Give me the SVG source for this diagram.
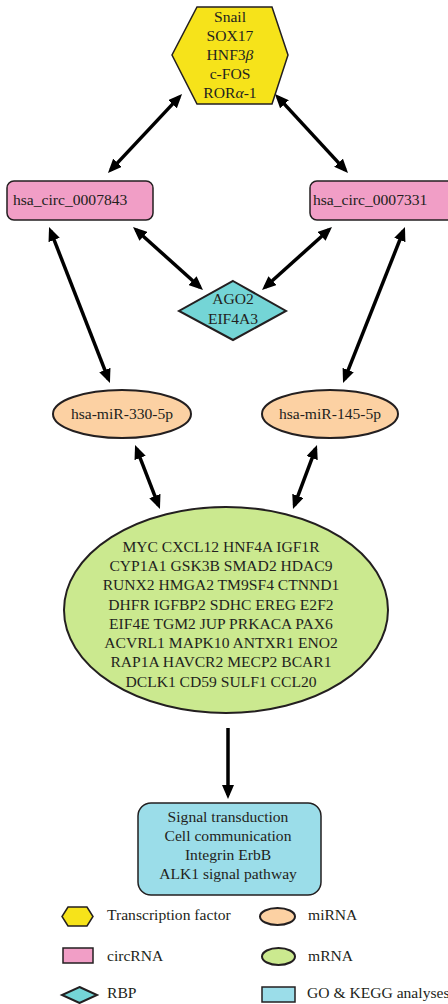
<svg xmlns="http://www.w3.org/2000/svg" width="448" height="1004" viewBox="0 0 448 1004">
  <style>
    .lbl { font-family: "Liberation Serif", "Times New Roman", serif; font-size: 15.6px; fill: #231f20; }
    .mid { text-anchor: middle; }
    .edge { stroke: #000; stroke-width: 3.5; fill: none; }
    .tf { fill: #f6e31a; stroke: #231f20; stroke-width: 1.5; }
    .circ { fill: #f19ec6; stroke: #231f20; stroke-width: 1.5; }
    .rbp { fill: #74d5d6; stroke: #231f20; stroke-width: 2; }
    .mir { fill: #fcd1a3; stroke: #231f20; stroke-width: 2; }
    .mrna { fill: #cbe98f; stroke: #231f20; stroke-width: 2; }
    .go { fill: #9bdde9; stroke: #231f20; stroke-width: 1.5; }
  </style>
  <defs>
    <marker id="head" markerUnits="userSpaceOnUse" markerWidth="14" markerHeight="12" refX="10" refY="6" orient="auto-start-reverse">
      <path d="M0,0 L14,6 L0,12 z" fill="#000"/>
    </marker>
  </defs>
  <rect width="448" height="1004" fill="#fff"/>

  <!-- connectors -->
  <g id="connectors" class="edge" marker-start="url(#head)" marker-end="url(#head)">
    <line x1="179.3" y1="96.9" x2="110.7" y2="170.1"/>
    <line x1="277.7" y1="96.9" x2="345.3" y2="170.1"/>
    <line x1="136.0" y1="229.7" x2="200.0" y2="287.3"/>
    <line x1="329.0" y1="229.7" x2="265.0" y2="287.3"/>
    <line x1="50.5" y1="230.7" x2="108.5" y2="379.3"/>
    <line x1="403.5" y1="230.7" x2="344.5" y2="379.3"/>
    <line x1="136.5" y1="448.7" x2="158.5" y2="505.3"/>
    <line x1="315.6" y1="448.7" x2="294.4" y2="505.3"/>
    <line x1="228" y1="728" x2="228" y2="795" marker-start="none"/>
  </g>

  <!-- transcription factors -->
  <g id="tf">
    <polygon class="tf" points="197,7 272,7 288,55 272,104 197,104 172,55"/>
    <text class="lbl mid" x="230" y="22">Snail</text>
    <text class="lbl mid" x="230" y="41">SOX17</text>
    <text class="lbl mid" x="230" y="60">HNF3<tspan font-style="italic">β</tspan></text>
    <text class="lbl mid" x="230" y="79">c-FOS</text>
    <text class="lbl mid" x="230" y="98">ROR<tspan font-style="italic">α</tspan>-1</text>
  </g>

  <!-- circRNAs -->
  <g id="circ-7843">
    <rect class="circ" x="7" y="181" width="146" height="39" rx="7"/>
    <text class="lbl" x="13" y="205">hsa_circ_0007843</text>
  </g>
  <g id="circ-7331">
    <rect class="circ" x="310" y="181" width="145" height="39" rx="7"/>
    <text class="lbl" x="313" y="205">hsa_circ_0007331</text>
  </g>

  <!-- RNA binding proteins -->
  <g id="rbp">
    <polygon class="rbp" points="233,281 286,311 233,340 179,311"/>
    <text class="lbl mid" x="233" y="304">AGO2</text>
    <text class="lbl mid" x="233" y="324">EIF4A3</text>
  </g>

  <!-- miRNAs -->
  <g id="mir-330">
    <ellipse class="mir" cx="122" cy="414" rx="69" ry="24"/>
    <text class="lbl mid" x="122" y="419">hsa-miR-330-5p</text>
  </g>
  <g id="mir-145">
    <ellipse class="mir" cx="330" cy="414" rx="68" ry="24"/>
    <text class="lbl mid" x="330" y="419">hsa-miR-145-5p</text>
  </g>

  <!-- target mRNAs -->
  <g id="mrna">
    <ellipse class="mrna" cx="226" cy="610" rx="162" ry="103"/>
    <text class="lbl mid" x="221" y="552">MYC CXCL12 HNF4A IGF1R</text>
    <text class="lbl mid" x="221" y="571">CYP1A1 GSK3B SMAD2 HDAC9</text>
    <text class="lbl mid" x="221" y="590">RUNX2 HMGA2 TM9SF4 CTNND1</text>
    <text class="lbl mid" x="221" y="610">DHFR IGFBP2 SDHC EREG E2F2</text>
    <text class="lbl mid" x="221" y="629">EIF4E TGM2 JUP PRKACA PAX6</text>
    <text class="lbl mid" x="221" y="648">ACVRL1 MAPK10 ANTXR1 ENO2</text>
    <text class="lbl mid" x="221" y="667">RAP1A HAVCR2 MECP2 BCAR1</text>
    <text class="lbl mid" x="221" y="687">DCLK1 CD59 SULF1 CCL20</text>
  </g>

  <!-- enrichment results -->
  <g id="go-kegg">
    <rect class="go" x="138" y="803" width="183" height="92" rx="13"/>
    <text class="lbl mid" x="228" y="822">Signal transduction</text>
    <text class="lbl mid" x="228" y="841">Cell communication</text>
    <text class="lbl mid" x="228" y="860">Integrin ErbB</text>
    <text class="lbl mid" x="228" y="879">ALK1 signal pathway</text>
  </g>

  <!-- legend -->
  <g id="legend">
    <polygon class="tf" points="68,907 87,907 93,916.5 87,926 68,926 62,916.5"/>
    <text class="lbl" x="107" y="920">Transcription factor</text>
    <rect class="circ" x="63" y="948" width="30" height="15"/>
    <text class="lbl" x="107" y="961">circRNA</text>
    <polygon class="rbp" points="79.5,987 97,995 79.5,1003 62,995"/>
    <text class="lbl" x="107" y="998">RBP</text>
    <ellipse class="mir" cx="277.5" cy="916.5" rx="17.5" ry="8.5"/>
    <text class="lbl" x="308" y="920">miRNA</text>
    <ellipse class="mrna" cx="278.5" cy="956.5" rx="16.5" ry="8.5"/>
    <text class="lbl" x="308" y="961">mRNA</text>
    <rect class="go" x="262" y="987" width="33" height="15"/>
    <text class="lbl" x="307" y="998" font-size="14.8">GO &amp; KEGG analyses</text>
  </g>
</svg>
